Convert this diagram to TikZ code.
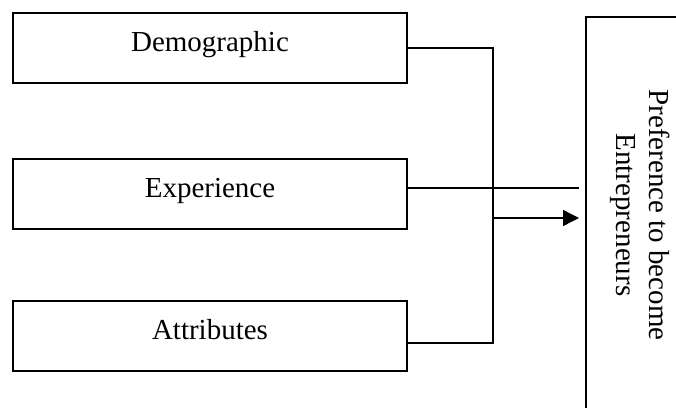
\documentclass[tikz,border=0pt]{standalone}
\usepackage{fontspec}
\setmainfont{Liberation Serif}
\usetikzlibrary{arrows.meta,calc}
\begin{document}
\begin{tikzpicture}[x=1pt,y=-1pt,
  box/.style={draw, line width=1.3pt, minimum width=394pt, minimum height=70pt, inner sep=0pt, text height=16pt, text depth=10pt, font=\fontsize{29}{33}\selectfont},
  ln/.style={line width=1.3pt},
  tip/.style={-{Triangle[length=16pt,width=16pt]}}]
\useasboundingbox (0,0) rectangle (676,407);
\node[box] (dem) at (210,48) {Demographic};
\node[box] (exp) at (210,194) {Experience};
\node[box] (att) at (210,336) {Attributes};
% outcome box (extends beyond the page)
\coordinate (ptl) at (586,17);
\coordinate (pbl) at (586,440);
\draw[ln] (720,17) -- (ptl) -- (pbl) -- (720,440);
\node[rotate=-90, align=center, inner sep=0pt, font=\fontsize{29}{33}\selectfont] (pref) at (640,215) {Preference to become\\Entrepreneurs};
% connectors
\coordinate (bus) at (493,0);
\coordinate (expc) at ($(exp.east)+(0,-6)$);
\coordinate (attc) at ($(att.east)+(0,7)$);
\coordinate (expend) at (579,188);
\coordinate (arrs) at (493,218);
\coordinate (arre) at (579,218);
\draw[ln] (dem.east) -- (dem.east -| bus) -- (attc -| bus) -- (attc);
\draw[ln] (expc) -- (expend);
\draw[ln,tip] (arrs) -- (arre);
\end{tikzpicture}
\end{document}
